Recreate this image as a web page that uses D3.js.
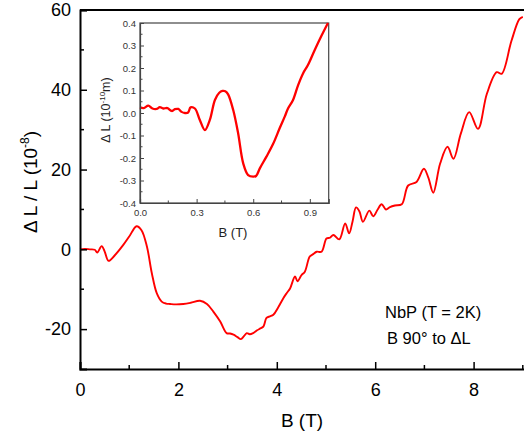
<!DOCTYPE html>
<html><head><meta charset="utf-8">
<script src="https://cdn.jsdelivr.net/npm/d3@7"></script>
<style>body{margin:0;background:#fff}svg{display:block}text{font-family:"Liberation Sans",Arial,sans-serif}</style>
</head><body>
<svg id="c" width="524" height="436"></svg>
<script>
// main curve: B (T) and ΔL/L (1e-8)
const mainB = [0,0.1,0.2,0.3,0.35,0.44,0.5,0.58,0.7,0.88,1.0,1.15,1.25,1.36,1.46,1.56,1.66,1.75,1.83,1.95,2.1,2.25,2.44,2.58,2.71,2.85,2.98,3.05,3.12,3.2,3.27,3.33,3.39,3.45,3.52,3.6,3.67,3.73,3.79,3.86,3.93,4.03,4.13,4.2,4.27,4.37,4.42,4.5,4.57,4.67,4.74,4.81,4.91,5.01,5.08,5.15,5.27,5.39,5.47,5.54,5.61,5.68,5.75,5.88,5.96,6.05,6.13,6.22,6.3,6.4,6.54,6.67,6.84,6.99,7.08,7.18,7.32,7.47,7.59,7.74,7.91,8.09,8.27,8.47,8.57,8.77,8.93,9.0];
const mainV = [0,0.1,0,-0.1,-0.8,0.8,-0.5,-2.9,-1.6,1.1,3.2,5.8,4.8,0.7,-6,-11,-13.1,-13.6,-13.7,-13.8,-13.7,-13.4,-12.9,-13.7,-15.6,-18.1,-21,-21.1,-21.4,-22,-22.5,-21.8,-21,-21.3,-21,-20.3,-19.8,-19.3,-17.2,-16.8,-16.4,-14.5,-12.3,-11,-9.8,-6.8,-8,-6.5,-5.6,-1.8,-1.2,-0.6,-0.6,2.7,2.9,3.6,2.5,6.5,4,7,10.5,9.5,6.9,9.7,8.3,10,11.3,10,10.6,11,11.3,16,16.9,20.2,18,14.2,21.5,25.7,22.7,29,34.4,30.2,39,44.4,44,52.3,57.7,58.3];
const xTicks = [0,2,4,6,8];
const yTicks = [-20,0,20,40,60];

// inset curve: B (T) and ΔL (1e-10 m)
const insB = [0,0.02,0.044,0.066,0.088,0.105,0.123,0.145,0.168,0.185,0.203,0.22,0.238,0.255,0.268,0.291,0.317,0.344,0.37,0.397,0.42,0.437,0.452,0.467,0.494,0.52,0.547,0.573,0.6,0.615,0.635,0.67,0.705,0.74,0.767,0.785,0.811,0.838,0.864,0.89,0.926,0.961,0.996];
const insV = [0.025,0.022,0.033,0.02,0.018,0.026,0.02,0.022,0.009,0.017,0.018,0.005,0,0.002,0.025,0.02,-0.031,-0.076,-0.031,0.058,0.09,0.098,0.097,0.083,0.013,-0.09,-0.224,-0.276,-0.283,-0.28,-0.246,-0.194,-0.138,-0.068,-0.016,0.021,0.058,0.124,0.176,0.213,0.28,0.342,0.4];
const insXTicks = [0,0.3,0.6,0.9];
const insYTicks = [-0.4,-0.3,-0.2,-0.1,0,0.1,0.2,0.3,0.4];

const svg = d3.select("#c");
const L=80,T=10,B=369;
const x = d3.scaleLinear().domain([0,9.2]).range([L, L+49.2*9.2]);
const y = d3.scaleLinear().domain([-30,60]).range([B,T]);

// curve
svg.append("path").datum(mainB.map((b,i)=>[b,mainV[i]]))
  .attr("fill","none").attr("stroke","#f00").attr("stroke-width",1.9)
  .attr("d",d3.line().x(d=>x(d[0])).y(d=>y(d[1])).curve(d3.curveCatmullRom.alpha(0.5)));

const fmtInt = d => String(d);
const fmt1 = d => d.toFixed(1);

// axes
const ax = svg.append("g").attr("transform",`translate(0,${B})`)
  .call(d3.axisBottom(x).tickValues(xTicks).tickSize(-7).tickPadding(14).tickFormat(fmtInt));
const ay = svg.append("g").attr("transform",`translate(${L},0)`)
  .call(d3.axisLeft(y).tickValues(yTicks).tickSize(-7).tickPadding(9).tickFormat(fmtInt));
[ax,ay].forEach(g=>{g.select(".domain").attr("stroke","#000").attr("stroke-width",2);
  g.selectAll(".tick line").attr("stroke","#000").attr("stroke-width",1.5);
  g.selectAll(".tick text").attr("font-size",18).attr("fill","#000").attr("font-family","Liberation Sans, Arial");});
// minor ticks
svg.append("g").selectAll("line").data([1,3,5,7,9]).join("line")
  .attr("x1",d=>x(d)).attr("x2",d=>x(d)).attr("y1",B).attr("y2",B-4).attr("stroke","#000").attr("stroke-width",1.5);
svg.append("g").selectAll("line").data([-10,10,30,50]).join("line")
  .attr("x1",L).attr("x2",L+4).attr("y1",d=>y(d)).attr("y2",d=>y(d)).attr("stroke","#000").attr("stroke-width",1.5);
// top frame
svg.append("line").attr("x1",L).attr("x2",x(9.2)).attr("y1",T).attr("y2",T).attr("stroke","#000").attr("stroke-width",2);

// titles
svg.append("text").attr("x",302).attr("y",427).attr("text-anchor","middle").attr("font-size",19).text("B (T)");
const yt = svg.append("text").attr("transform","translate(37,182) rotate(-90)").attr("text-anchor","middle").attr("font-size",19);
yt.append("tspan").text("\u0394 L / L (10");
yt.append("tspan").attr("font-size",12).attr("dy",-8).text("-8");
yt.append("tspan").attr("dy",8).text(")");

svg.append("text").attr("x",385).attr("y",318).attr("font-size",16.5).text("NbP (T = 2K)");
svg.append("text").attr("x",387).attr("y",344).attr("font-size",16.5).text("B 90\u00b0 to \u0394L");

// inset
const iL=140,iR=328.7,iT=23,iB=203;
const ix = d3.scaleLinear().domain([0,1.0]).range([iL,iR]);
const iy = d3.scaleLinear().domain([-0.4,0.4]).range([iB,iT]);
svg.append("rect").attr("x",iL).attr("y",iT).attr("width",iR-iL).attr("height",iB-iT)
  .attr("fill","#fff").attr("stroke","#444").attr("stroke-width",1.2);
svg.append("path").datum(insB.map((b,i)=>[b,insV[i]]))
  .attr("fill","none").attr("stroke","#f00").attr("stroke-width",2.3)
  .attr("d",d3.line().x(d=>ix(d[0])).y(d=>iy(d[1])).curve(d3.curveCatmullRom.alpha(0.5)));
const iax = svg.append("g").attr("transform",`translate(0,${iB})`)
  .call(d3.axisBottom(ix).tickValues(insXTicks).tickSize(-4).tickPadding(6).tickFormat(fmt1));
const iay = svg.append("g").attr("transform",`translate(${iL},0)`)
  .call(d3.axisLeft(iy).tickValues(insYTicks).tickSize(-4).tickPadding(4).tickFormat(fmt1));
[iax,iay].forEach(g=>{g.select(".domain").attr("stroke","#444").attr("stroke-width",1.2);
  g.selectAll(".tick line").attr("stroke","#444");
  g.selectAll(".tick text").attr("font-size",9.5).attr("fill","#333").attr("font-family","Liberation Sans, Arial");});
svg.append("g").selectAll("line").data([0.15,0.45,0.75]).join("line")
  .attr("x1",d=>ix(d)).attr("x2",d=>ix(d)).attr("y1",iB).attr("y2",iB-2.5).attr("stroke","#444");
svg.append("g").selectAll("line").data([-0.35,-0.25,-0.15,-0.05,0.05,0.15,0.25,0.35]).join("line")
  .attr("x1",iL).attr("x2",iL+2.5).attr("y1",d=>iy(d)).attr("y2",d=>iy(d)).attr("stroke","#444");
svg.append("text").attr("x",233).attr("y",237).attr("text-anchor","middle").attr("font-size",13).attr("fill","#222").text("B (T)");
const iyt = svg.append("text").attr("transform","translate(110,110) rotate(-90)").attr("text-anchor","middle").attr("font-size",12.5).attr("fill","#222");
iyt.append("tspan").text("\u0394 L (10");
iyt.append("tspan").attr("font-size",8).attr("dy",-5).text("-10");
iyt.append("tspan").attr("dy",5).text("m)");
</script>
</body></html>
